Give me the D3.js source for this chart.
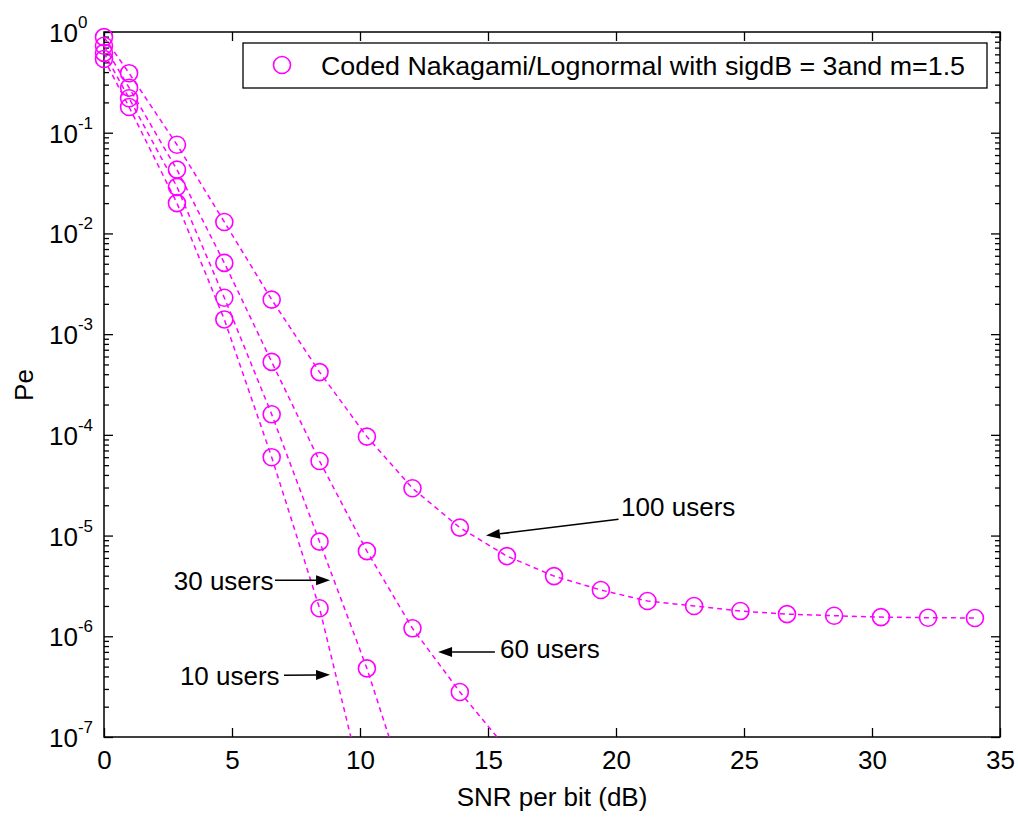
<!DOCTYPE html>
<html>
<head>
<meta charset="utf-8">
<title>Coded Nakagami/Lognormal Pe</title>
<style>
    body { margin: 0; background: #fff; }
    svg text { font-family: "Liberation Sans", Arial, sans-serif; fill: #000; }
    .axis path.domain { display: none; }
    .axis line { stroke: #000; stroke-width: 1.3; }
    .curve { fill: none; stroke: #ff00ff; stroke-width: 1.5; stroke-dasharray: 5,4; }
    .marker { fill: none; stroke: #ff00ff; stroke-width: 1.6; }
</style>
</head>
<body>
<svg id="chart" width="1018" height="817"></svg>
<script src="https://d3js.org/d3.v7.min.js"></script>
<script>
// SNR per bit (dB) at which Pe was evaluated
var snr = [0, 0.98, 2.85, 4.7, 6.55, 8.42, 10.27, 12.05, 13.9, 15.74, 17.58, 19.41,
           21.23, 23.05, 24.86, 26.68, 28.52, 30.35, 32.19, 34.02];

// Pe for each number of users (values under 1e-7 run off the bottom of the axes)
var pe100 = [0.89, 0.39, 0.076, 0.013, 0.0022, 4.2e-4, 9.6e-5, 2.95e-5, 1.2e-5, 6.25e-6,
             3.96e-6, 2.88e-6, 2.24e-6, 2.0e-6, 1.78e-6, 1.66e-6, 1.6e-6, 1.55e-6, 1.53e-6, 1.52e-6];
var pe60 = [0.73, 0.28, 0.043, 0.0051, 5.3e-4, 5.5e-5, 7.0e-6, 1.2e-6, 2.8e-7, 7.6e-8];
var pe30 = [0.62, 0.22, 0.029, 0.0023, 1.6e-4, 8.7e-6, 4.8e-7, 1.9e-8];
var pe10 = [0.54, 0.18, 0.020, 0.0014, 6.0e-5, 1.9e-6, 2.2e-8];

var xTicks = [0, 5, 10, 15, 20, 25, 30, 35];
var yExponents = [0, -1, -2, -3, -4, -5, -6, -7];
var legendLabel = 'Coded Nakagami/Lognormal with sigdB = 3and m=1.5';
var xTitle = 'SNR per bit (dB)';
var yTitle = 'Pe';

var svg = d3.select('#chart');

var mLeft = 104, mRight = 1000, mTop = 32, mBottom = 737;

var x = d3.scaleLinear().domain([0, 35]).range([mLeft, mRight]);
var y = d3.scaleLog().domain([1e-7, 1]).range([mBottom, mTop]);

// minor ticks 2..9 inside each decade
var minor = [];
yExponents.slice(1).forEach(function(e) {
    for (var k = 2; k <= 9; k++) minor.push(k * Math.pow(10, e));
});
var major = yExponents.map(function(e) { return Math.pow(10, e); });

// clip for the dashed curves
svg.append('clipPath').attr('id', 'plotClip')
    .append('rect')
    .attr('x', mLeft).attr('y', mTop)
    .attr('width', mRight - mLeft).attr('height', mBottom - mTop);

// axes, ticks pointing inward on all four sides
svg.append('g').attr('class', 'axis')
    .attr('transform', 'translate(0,' + mBottom + ')')
    .call(d3.axisBottom(x).tickValues(xTicks).tickSizeInner(-9).tickSizeOuter(0).tickPadding(14))
    .selectAll('text').style('font-size', '26px');

svg.append('g').attr('class', 'axis')
    .attr('transform', 'translate(0,' + mTop + ')')
    .call(d3.axisTop(x).tickValues(xTicks).tickSizeInner(-9).tickSizeOuter(0).tickFormat(''));

svg.append('g').attr('class', 'axis')
    .attr('transform', 'translate(' + mLeft + ',0)')
    .call(d3.axisLeft(y).tickValues(major).tickSizeInner(-9).tickSizeOuter(0).tickFormat(''));
svg.append('g').attr('class', 'axis')
    .attr('transform', 'translate(' + mLeft + ',0)')
    .call(d3.axisLeft(y).tickValues(minor).tickSizeInner(-5).tickSizeOuter(0).tickFormat(''));
svg.append('g').attr('class', 'axis')
    .attr('transform', 'translate(' + mRight + ',0)')
    .call(d3.axisRight(y).tickValues(major).tickSizeInner(-9).tickSizeOuter(0).tickFormat(''));
svg.append('g').attr('class', 'axis')
    .attr('transform', 'translate(' + mRight + ',0)')
    .call(d3.axisRight(y).tickValues(minor).tickSizeInner(-5).tickSizeOuter(0).tickFormat(''));

// y tick labels as 10^e
var yLabels = svg.selectAll('.ylab').data(yExponents).enter()
    .append('text')
    .attr('class', 'ylab')
    .attr('x', 49)
    .attr('y', function(e) { return y(Math.pow(10, e)) + 10; })
    .style('font-size', '26px');
yLabels.append('tspan').text('10');
yLabels.append('tspan')
    .attr('dy', -14)
    .style('font-size', '17px')
    .text(function(e) { return e; });

// plot box
svg.append('rect')
    .attr('x', mLeft).attr('y', mTop)
    .attr('width', mRight - mLeft).attr('height', mBottom - mTop)
    .attr('fill', 'none').attr('stroke', '#000').attr('stroke-width', 1.5);

// curves
var series = [pe100, pe60, pe30, pe10];
var line = d3.line()
    .x(function(d, i) { return x(snr[i]); })
    .y(function(d) { return y(d); });

svg.append('g').attr('clip-path', 'url(#plotClip)')
    .selectAll('path').data(series).enter()
    .append('path')
    .attr('class', 'curve')
    .attr('d', line);

series.forEach(function(vals) {
    var pts = vals.map(function(v, i) { return { sx: snr[i], pe: v }; })
        .filter(function(p) { return p.pe >= 1e-7; });
    svg.append('g').selectAll('circle').data(pts).enter()
        .append('circle')
        .attr('class', 'marker')
        .attr('cx', function(p) { return x(p.sx); })
        .attr('cy', function(p) { return y(p.pe); })
        .attr('r', 8.5);
});

// legend
svg.append('rect')
    .attr('x', 243).attr('y', 43).attr('width', 744).attr('height', 45)
    .attr('fill', '#fff').attr('stroke', '#000').attr('stroke-width', 1.3);
svg.append('circle').attr('class', 'marker').attr('cx', 282).attr('cy', 65).attr('r', 8.5);
svg.append('text')
    .attr('x', 321).attr('y', 75)
    .attr('textLength', 644)
    .attr('lengthAdjust', 'spacingAndGlyphs')
    .style('font-size', '26px')
    .text(legendLabel);

// axis titles
svg.append('text')
    .attr('x', (mLeft + mRight) / 2).attr('y', 806)
    .attr('text-anchor', 'middle')
    .style('font-size', '26px')
    .text(xTitle);
svg.append('text')
    .attr('transform', 'translate(33,385) rotate(-90)')
    .attr('text-anchor', 'middle')
    .style('font-size', '26px')
    .text(yTitle);

// annotations: arrow tail -> tip, label next to tail (data coordinates)
var annotations = [
    { label: '100 users', tail: [20.1, 1.45e-5], tip: [14.92, 1.0e-5], tx: 20.2, ty: 1.55e-5, anchor: 'start' },
    { label: '60 users',  tail: [15.27, 7.0e-7], tip: [13.05, 7.0e-7], tx: 15.47, ty: 6.1e-7, anchor: 'start' },
    { label: '30 users',  tail: [6.68, 3.6e-6],  tip: [8.83, 3.6e-6],  tx: 6.62, ty: 2.85e-6, anchor: 'end' },
    { label: '10 users',  tail: [7.03, 4.1e-7],  tip: [8.83, 4.15e-7], tx: 6.86, ty: 3.25e-7, anchor: 'end' }
];

annotations.forEach(function(a) {
    var x0 = x(a.tail[0]), y0 = y(a.tail[1]);
    var x1 = x(a.tip[0]), y1 = y(a.tip[1]);
    var ang = Math.atan2(y1 - y0, x1 - x0);
    var len = 14, half = 5;
    var bx = x1 - len * Math.cos(ang), by = y1 - len * Math.sin(ang);
    svg.append('line')
        .attr('x1', x0).attr('y1', y0).attr('x2', bx).attr('y2', by)
        .attr('stroke', '#000').attr('stroke-width', 1.5);
    svg.append('path')
        .attr('d', 'M' + x1 + ',' + y1 +
            'L' + (bx + half * Math.sin(ang)) + ',' + (by - half * Math.cos(ang)) +
            'L' + (bx - half * Math.sin(ang)) + ',' + (by + half * Math.cos(ang)) + 'Z')
        .attr('fill', '#000');
    svg.append('text')
        .attr('x', x(a.tx)).attr('y', y(a.ty))
        .attr('text-anchor', a.anchor)
        .style('font-size', '26px')
        .text(a.label);
});
</script>
</body>
</html>
